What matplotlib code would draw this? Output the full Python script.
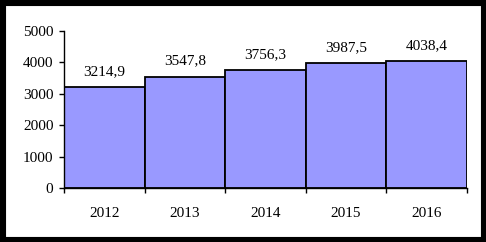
import matplotlib
matplotlib.use("Agg")
import matplotlib.pyplot as plt
from matplotlib.patches import Rectangle
import numpy as np

years = ["2012", "2013", "2014", "2015", "2016"]
values = [3214.9, 3547.8, 3756.3, 3987.5, 4038.4]
value_labels = ["3214,9", "3547,8", "3756,3", "3987,5", "4038,4"]
yticks = [0, 1000, 2000, 3000, 4000, 5000]

plt.rcParams['font.family'] = ['Liberation Serif', 'DejaVu Serif']
FS = 11

W, H = 486, 242
fig = plt.figure(figsize=(W/100, H/100), dpi=100)
fig.patch.set_facecolor('white')
ax = fig.add_axes([64/W, 1-188/H, (467-64)/W, (188-31)/H])

x = np.arange(len(years))
ax.bar(x, values, width=1.0, color='#9999FF', edgecolor='black', linewidth=1.3, zorder=2)
for xi, v, lab in zip(x, values, value_labels):
    ax.annotate(lab, (xi, v), xytext=(0, 6.5), textcoords='offset points',
                ha='center', va='bottom', fontsize=FS)

ax.set_xlim(-0.5, len(years)-0.5)
ax.set_ylim(0, 5000)
ax.set_yticks(yticks)
ax.set_yticklabels([str(t) for t in yticks], fontsize=FS)
ax.set_xticks(np.arange(len(years)+1)-0.5)
ax.set_xticklabels([])
ax.set_xticks(x, minor=True)
ax.set_xticklabels(years, minor=True, fontsize=FS)
ax.tick_params(axis='x', which='minor', length=0, pad=13.5)
ax.tick_params(axis='x', which='major', length=3.6, width=1, direction='out')
ax.tick_params(axis='y', length=3.6, width=1, direction='out', pad=4)
for s in ['top', 'right']:
    ax.spines[s].set_visible(False)
for s in ['left', 'bottom']:
    ax.spines[s].set_linewidth(1.0)
    ax.spines[s].set_zorder(3)

fig.patches.append(Rectangle((0, 0), 1, 1, transform=fig.transFigure, fill=False,
                             edgecolor='black', linewidth=8, zorder=10))

fig.savefig('out.png', dpi=100)
